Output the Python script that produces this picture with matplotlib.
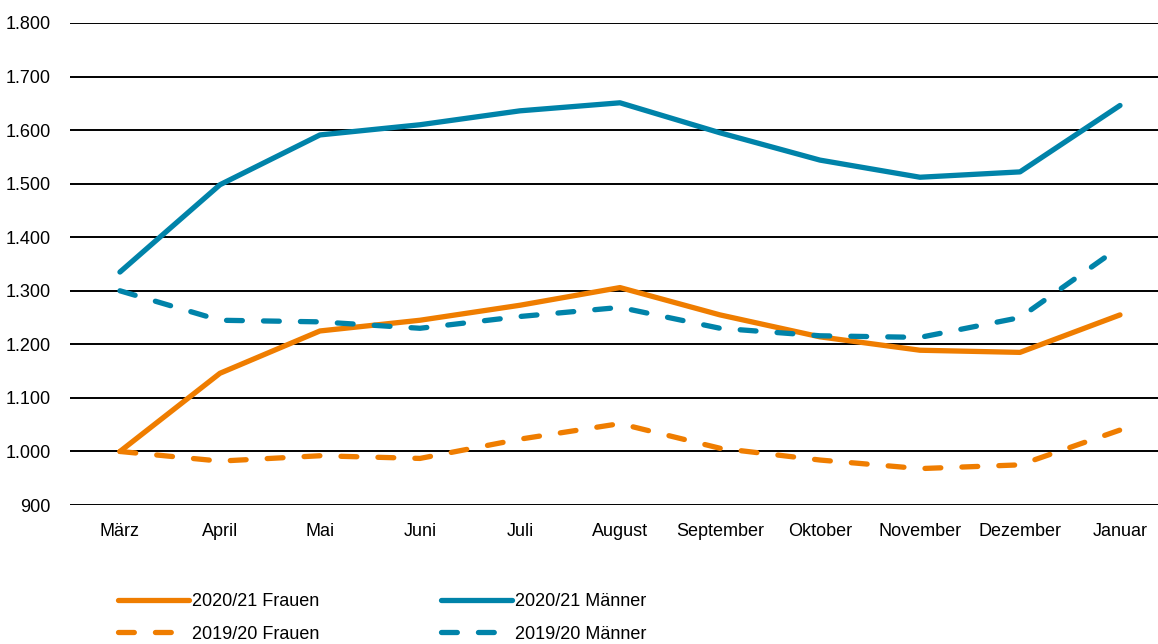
import matplotlib
matplotlib.use("Agg")
import matplotlib.pyplot as plt

months = ["März", "April", "Mai", "Juni", "Juli", "August", "September",
          "Oktober", "November", "Dezember", "Januar"]
frauen_2021 = [1000, 1146, 1225, 1245, 1273, 1306, 1255, 1214, 1189, 1185, 1255]
maenner_2021 = [1335, 1498, 1591, 1610, 1636, 1651, 1595, 1544, 1512, 1522, 1646]
frauen_1920 = [1000, 982, 992, 987, 1023, 1052, 1006, 984, 968, 975, 1040]
maenner_1920 = [1300, 1245, 1242, 1230, 1252, 1269, 1230, 1216, 1213, 1250, 1382]
y_ticks = [900, 1000, 1100, 1200, 1300, 1400, 1500, 1600, 1700, 1800]
y_labels = ["900", "1.000", "1.100", "1.200", "1.300", "1.400", "1.500",
            "1.600", "1.700", "1.800"]

ORANGE = "#EF7D00"
BLUE = "#0083A9"

plt.rcParams['font.family'] = ['Liberation Sans', 'DejaVu Sans']

fig = plt.figure(figsize=(11.58, 6.44), dpi=100)
ax = fig.add_axes([0.0604, 0.2158, 0.9396, 0.7485])

x = list(range(len(months)))
lw = 3.8
dash = (3, 4.0)
l1, = ax.plot(x, frauen_2021, color=ORANGE, lw=lw, solid_capstyle='round',
              solid_joinstyle='round', label="2020/21 Frauen", zorder=3)
l2, = ax.plot(x, frauen_1920, color=ORANGE, lw=lw, linestyle=(0, dash),
              dash_capstyle='round', dash_joinstyle='round', label="2019/20 Frauen", zorder=3)
l3, = ax.plot(x, maenner_2021, color=BLUE, lw=lw, solid_capstyle='round',
              solid_joinstyle='round', label="2020/21 Männer", zorder=3)
l4, = ax.plot(x, maenner_1920, color=BLUE, lw=lw, linestyle=(0, dash),
              dash_capstyle='round', dash_joinstyle='round', label="2019/20 Männer", zorder=3)

ax.set_ylim(900, 1800)
ax.set_xlim(-0.5, 10.38)
ax.set_yticks(y_ticks)
ax.set_yticklabels(y_labels)
ax.set_xticks(x)
ax.set_xticklabels(months)
for s in ax.spines.values():
    s.set_visible(False)
ax.tick_params(axis='both', length=0, labelsize=13, colors='black')
ax.tick_params(axis='y', pad=14)
ax.tick_params(axis='x', pad=13)
ax.grid(axis='y', color='black', lw=1.4, zorder=1)
ax.set_axisbelow(True)

fig.legend(handles=[l1, l2, l3, l4], ncol=2, loc='upper left',
           bbox_to_anchor=(0.088, 1 - 577 / 644), frameon=False, fontsize=13,
           handlelength=3.9, handletextpad=0.2, columnspacing=6.75,
           labelspacing=0.85)

fig.savefig("out.png", dpi=100)
